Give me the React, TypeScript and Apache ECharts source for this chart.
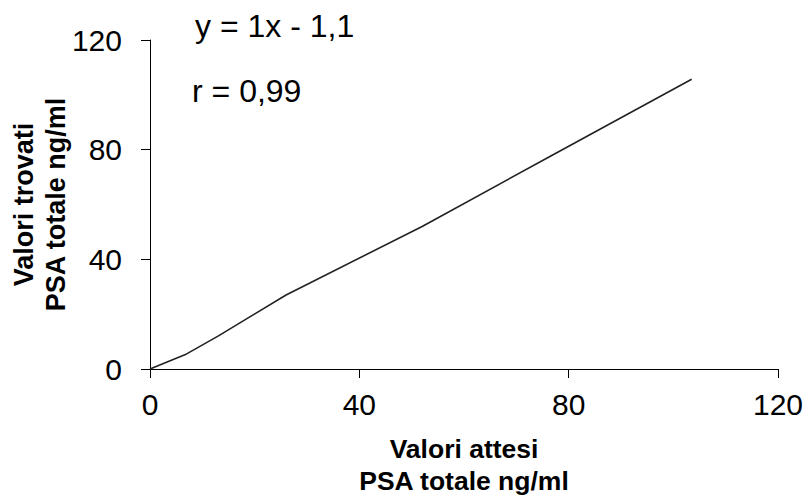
import React, { useEffect, useRef } from "react";
import * as echarts from "echarts";

const expectedValues = [0, 7, 13, 26, 52, 76.5, 103.5];
const foundValues = [0, 5.5, 12, 27, 52, 77.6, 105.7];
const xTicks = [0, 40, 80, 120];
const yTicks = [0, 40, 80, 120];
const equationText = "y = 1x - 1,1";
const rText = "r = 0,99";
const xAxisTitle = "Valori attesi\nPSA totale ng/ml";
const yAxisTitle = "Valori trovati\nPSA totale ng/ml";

const FONT = "Liberation Sans, Arial, sans-serif";

export default function App() {
  const ref = useRef<HTMLDivElement>(null);
  useEffect(() => {
    if (!ref.current) return;
    const chart = echarts.init(ref.current, undefined, { renderer: "svg" });
    const pairs = expectedValues.map((x, i) => [x, foundValues[i]]);
    chart.setOption({
      animation: false,
      backgroundColor: "#ffffff",
      grid: {
        left: 150,
        right: 29,
        top: 40,
        bottom: 128,
        containLabel: false,
        outerBoundsMode: "none",
      },
      xAxis: {
        type: "value",
        min: xTicks[0],
        max: xTicks[xTicks.length - 1],
        interval: xTicks[1] - xTicks[0],
        name: xAxisTitle,
        nameLocation: "middle",
        nameGap: 64,
        nameMoveOverlap: false,
        nameTextStyle: { fontFamily: FONT, fontSize: 26.5, fontWeight: "bold", color: "#000", lineHeight: 32 },
        axisLine: { show: true, lineStyle: { color: "#000", width: 1 } },
        axisTick: { show: true, length: 9, lineStyle: { color: "#000" } },
        axisLabel: { fontFamily: FONT, fontSize: 30, color: "#000", margin: 20 },
        splitLine: { show: false },
      },
      yAxis: {
        type: "value",
        min: yTicks[0],
        max: yTicks[yTicks.length - 1],
        interval: yTicks[1] - yTicks[0],
        name: yAxisTitle,
        nameLocation: "middle",
        nameGap: 78,
        nameMoveOverlap: false,
        nameTextStyle: { fontFamily: FONT, fontSize: 27, fontWeight: "bold", color: "#000", lineHeight: 32 },
        axisLine: { show: true, lineStyle: { color: "#000", width: 1 } },
        axisTick: { show: true, length: 9, lineStyle: { color: "#000" } },
        axisLabel: { fontFamily: FONT, fontSize: 30, color: "#000", margin: 28 },
        splitLine: { show: false },
      },
      graphic: [
        {
          type: "text",
          left: 195,
          top: 10,
          style: { text: equationText, fontFamily: FONT, fontSize: 32, fill: "#000" },
        },
        {
          type: "text",
          left: 192,
          top: 75,
          style: { text: rText, fontFamily: FONT, fontSize: 32, fill: "#000" },
        },
      ],
      series: [
        {
          type: "line",
          data: pairs,
          showSymbol: false,
          symbol: "none",
          lineStyle: { color: "#222", width: 1.6 },
        },
      ],
    });
    return () => chart.dispose();
  }, []);
  return (
    <div
      ref={ref}
      style={{ position: "fixed", left: 0, top: 0, width: 807, height: 497 }}
    />
  );
}
